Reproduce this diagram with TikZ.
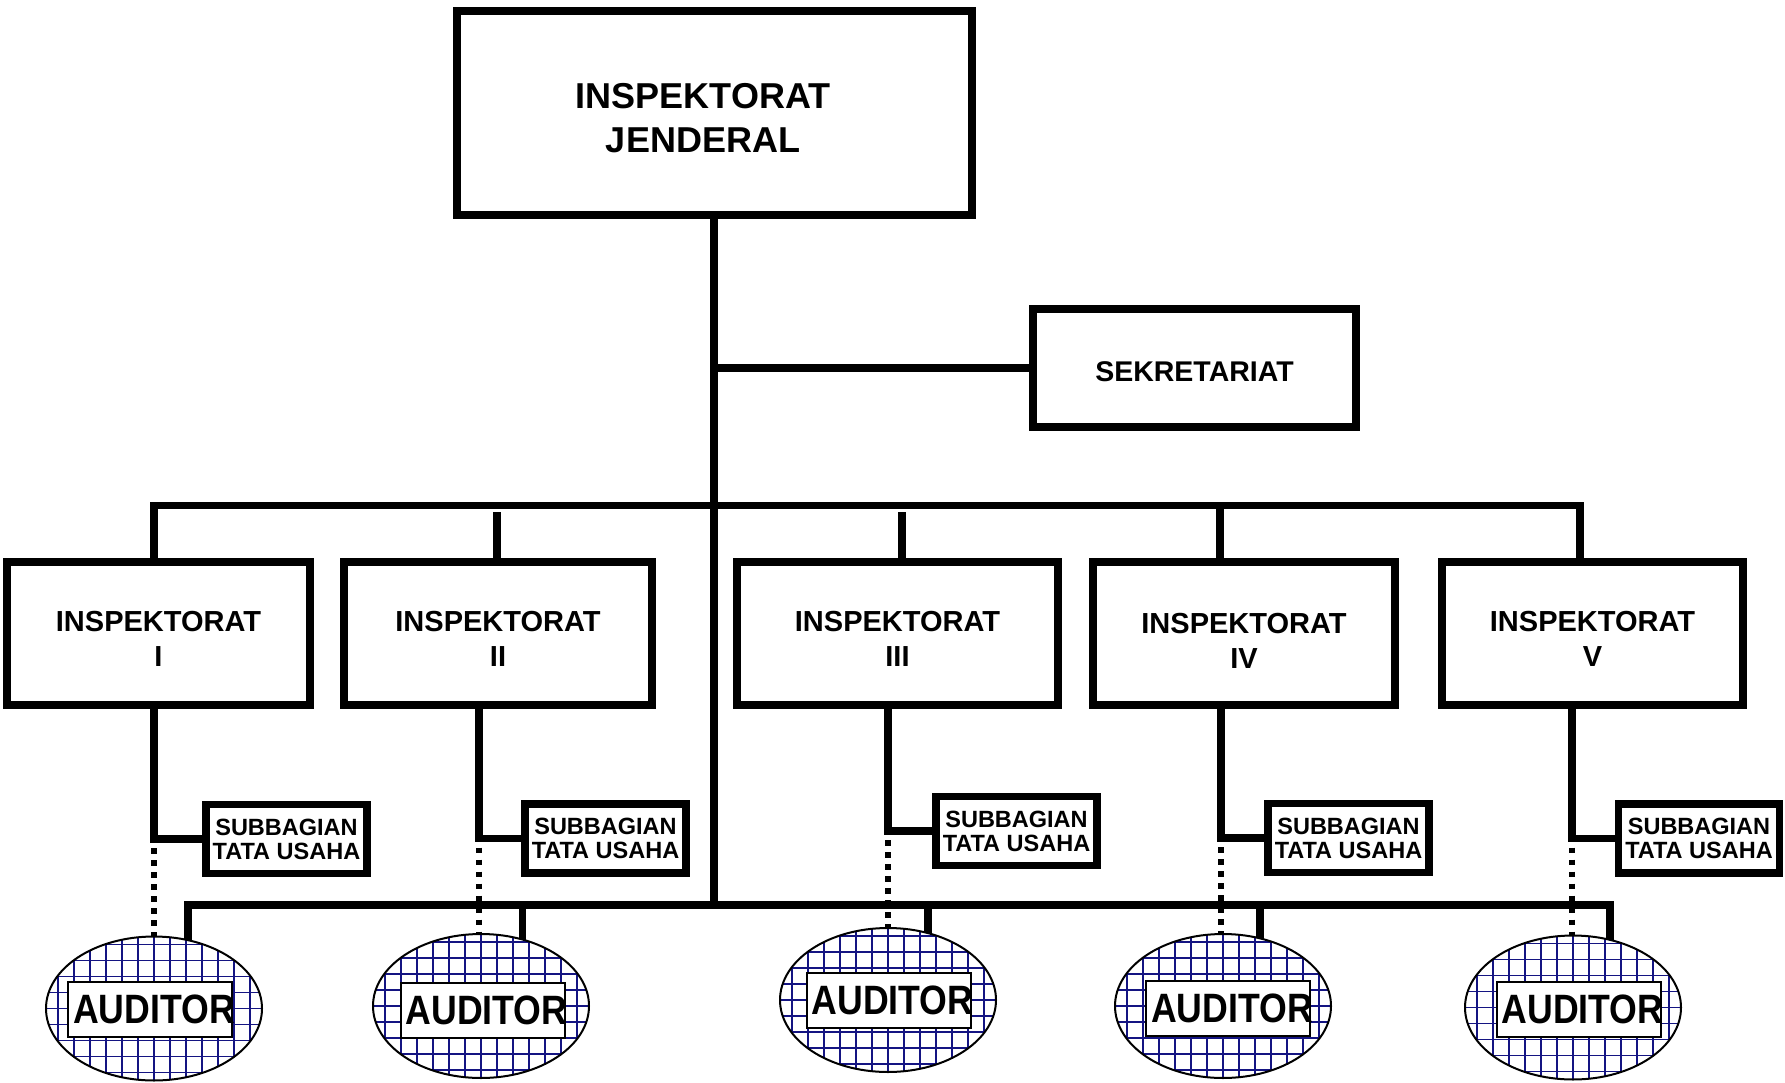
\documentclass[tikz,border=0pt]{standalone}
\usepackage{fontspec}
\setmainfont{Liberation Sans}
\usetikzlibrary{shapes.geometric}
\definecolor{gridnavy}{RGB}{20,20,130}
\newcommand\auditorunit[3]{%
  \node[audell] (#1) at #2 {};
  \begin{scope}
    \clip #2 ellipse [x radius=108, y radius=72];
    \begin{scope}[shift={#2}]
      \foreach \k in {-7,...,7} {
        \draw[gridline] (\k*16,-80) -- (\k*16,80);
        \draw[gridline] (-120,\k*16) -- (120,\k*16);
      }
    \end{scope}
  \end{scope}
  \draw[line width=2pt] #2 ellipse [x radius=108, y radius=72];
  \node[audbox] (#1b) at #3 {\makebox[156pt][l]{\hspace{1pt}\scalebox{0.87}[1]{AUDITOR}}};
}
\begin{document}
\begin{tikzpicture}[x=1pt,y=-1pt,
  box/.style={draw, line width=7.5pt, inner sep=0pt, align=center, font=\bfseries},
  topbox/.style={box, line width=8pt, minimum width=515pt, minimum height=204pt},
  sekbox/.style={box, minimum width=323pt, minimum height=118pt, font=\fontsize{28.5pt}{35pt}\selectfont\bfseries},
  inspbox/.style={box, minimum height=143pt, font=\fontsize{29pt}{35pt}\selectfont\bfseries},
  subbox/.style={box, line width=7.3pt, minimum width=161pt, minimum height=69pt, font=\fontsize{23.5pt}{24pt}\selectfont\bfseries},
  conn/.style={line width=7.5pt},
  dots/.style={line width=5.5pt, dash pattern=on 5.5pt off 6.5pt},
  audell/.style={ellipse, fill=white, minimum width=216pt, minimum height=144pt, inner sep=0pt},
  gridline/.style={draw=gridnavy, line width=1.6pt},
  audbox/.style={draw, fill=white, line width=2pt, inner sep=0pt, minimum width=164pt, minimum height=55pt, font=\fontsize{41pt}{41pt}\selectfont\bfseries}
]
\useasboundingbox (0,0) rectangle (1785,1083);

% top
\node[topbox] (ij) at (714,113) {};
\node[font=\fontsize{36pt}{44pt}\selectfont\bfseries, align=center, inner sep=0pt] (ijt) at (703,118) {INSPEKTORAT\\JENDERAL};
\node[sekbox] (sek) at (1194.5,368) {\rule{0pt}{27pt}SEKRETARIAT};

% inspektorat boxes
\node[inspbox, minimum width=303pt] (i1) at (158.5,633.5) {\rule{0pt}{31pt}INSPEKTORAT\\I};
\node[inspbox, minimum width=308pt] (i2) at (498,633.5) {\rule{0pt}{31pt}INSPEKTORAT\\II};
\node[inspbox, minimum width=321pt] (i3) at (897.5,633.5) {\rule{0pt}{30pt}INSPEKTORAT\\III};
\node[inspbox, minimum width=302pt] (i4) at (1244,633.5) {\rule{0pt}{34pt}INSPEKTORAT\\IV};
\node[inspbox, minimum width=301pt] (i5) at (1592.5,633.5) {\rule{0pt}{30pt}INSPEKTORAT\\V};

% subbagian boxes
\node[subbox] (s1) at (286.5,839) {SUBBAGIAN\\TATA USAHA};
\node[subbox] (s2) at (605.5,838.5) {SUBBAGIAN\\TATA USAHA};
\node[subbox] (s3) at (1016.5,831) {SUBBAGIAN\\TATA USAHA};
\node[subbox] (s4) at (1348.5,838) {SUBBAGIAN\\TATA USAHA};
\node[subbox] (s5) at (1699,838.5) {SUBBAGIAN\\TATA USAHA};

% tap coordinates
\coordinate (t1) at (154,505.5);
\coordinate (t2) at (497,512);
\coordinate (t3) at (902,512);
\coordinate (t4) at (1220,505.5);
\coordinate (t5) at (1580,505.5);
\coordinate (v1) at (154,0);
\coordinate (v2) at (479,0);
\coordinate (v3) at (888,0);
\coordinate (v4) at (1221,0);
\coordinate (v5) at (1572,0);
\coordinate (bb1) at (188,905);
\coordinate (bb2) at (522.5,905);
\coordinate (bb3) at (928,905);
\coordinate (bb4) at (1260,905);
\coordinate (bb5) at (1610,905);

% auditor centres (for connector ends)
\coordinate (e1c) at (154,1008.5);
\coordinate (e2c) at (481,1006);
\coordinate (e3c) at (888,1000);
\coordinate (e4c) at (1223,1006);
\coordinate (e5c) at (1573,1007.5);

% trunk and sekretariat
\draw[conn] (ij.south) -- (ij.south |- bb1);
\draw[conn] (ij.south |- sek.west) -- (sek.west);

% upper bus
\draw[conn] (t1 |- i1.north) -- (t1) -- (t5) -- (t5 |- i5.north);
\draw[conn] (t2) -- (t2 |- i2.north);
\draw[conn] (t3) -- (t3 |- i3.north);
\draw[conn] (t4) -- (t4 |- i4.north);

% down to subbagian
\draw[conn] (v1 |- i1.south) |- (s1.west);
\draw[conn] (v2 |- i2.south) |- (s2.west);
\draw[conn] (v3 |- i3.south) |- (s3.west);
\draw[conn] (v4 |- i4.south) |- (s4.west);
\draw[conn] (v5 |- i5.south) |- (s5.west);

% dotted lines to auditors
\draw[dots] ([yshift=-9pt]v1 |- s1.west) -- (v1 |- e1c);
\draw[dots] ([yshift=-9pt]v2 |- s2.west) -- (v2 |- e2c);
\draw[dots] ([yshift=-9pt]v3 |- s3.west) -- (v3 |- e3c);
\draw[dots] ([yshift=-9pt]v4 |- s4.west) -- (v4 |- e4c);
\draw[dots] ([yshift=-9pt]v5 |- s5.west) -- (v5 |- e5c);

% lower bus
\draw[conn] (bb1 |- e1c) -- (bb1) -- (bb5) -- (bb5 |- e5c);
\draw[conn] (bb2) -- (bb2 |- e2c);
\draw[conn] (bb3) -- (bb3 |- e3c);
\draw[conn] (bb4) -- (bb4 |- e4c);

% auditors
\auditorunit{e1}{(154,1008.5)}{(150,1009.5)}
\auditorunit{e2}{(481,1006)}{(482.5,1010.5)}
\auditorunit{e3}{(888,1000)}{(888.5,1000.5)}
\auditorunit{e4}{(1223,1006)}{(1228,1008.5)}
\auditorunit{e5}{(1573,1007.5)}{(1578.5,1009.5)}
\end{tikzpicture}
\end{document}
